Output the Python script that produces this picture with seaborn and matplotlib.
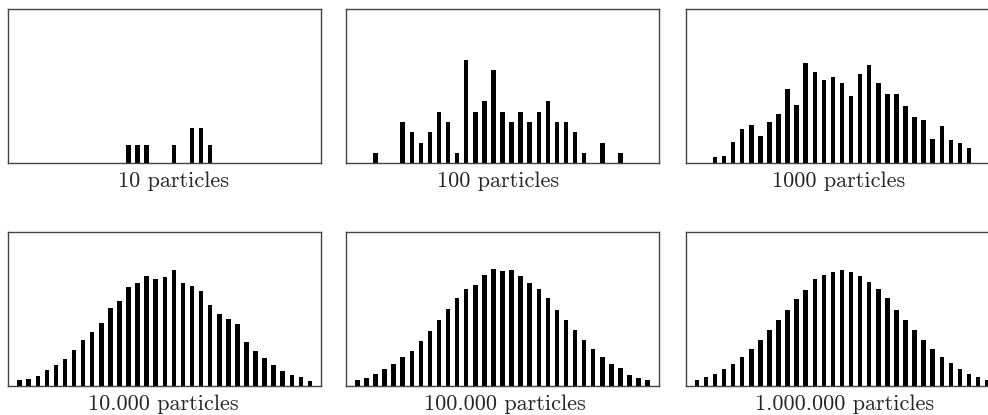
import numpy as np
import pandas as pd
import matplotlib
matplotlib.use("Agg")
import matplotlib.pyplot as plt
import seaborn as sns

# Bin index (33 bins of the board)
bins = list(range(33))

# Counts per bin
counts_10 = [0, 0, 0, 0, 0, 0, 0, 0, 0, 0, 0, 0, 1, 1, 1, 0, 0, 1, 0, 2, 2, 1,
             0, 0, 0, 0, 0, 0, 0, 0, 0, 0, 0]
counts_100 = [0, 0, 1, 0, 0, 4, 3, 2, 3, 5, 4, 1, 10, 5, 6, 9, 5, 4, 5, 4, 5, 6,
              4, 4, 3, 1, 0, 2, 0, 1, 0, 0, 0]
counts_1000 = [0, 0, 4, 5, 14, 22, 25, 18, 27, 32, 48, 38, 65, 59, 54, 56, 52, 44,
               58, 64, 52, 45, 45, 37, 30, 28, 16, 24, 15, 13, 10, 0, 0]
counts_10k = [34, 40, 56, 87, 116, 147, 196, 250, 292, 341, 426, 462, 539, 557,
              597, 579, 591, 629, 560, 544, 515, 441, 390, 363, 334, 241, 190,
              154, 114, 82, 60, 49, 25]
counts_100k = [318, 442, 654, 884, 1185, 1521, 1874, 2369, 2917, 3501, 4049, 4632,
               5127, 5322, 5852, 6206, 6064, 6135, 5799, 5463, 5127, 4668, 4031,
               3501, 2970, 2440, 1963, 1521, 1185, 937, 583, 442, 318]
counts_1m = [3170, 4580, 6340, 8810, 11800, 15320, 19370, 24300, 29410, 35050,
             40330, 45610, 50720, 56360, 58650, 60230, 61110, 60230, 57770, 54770,
             50900, 46140, 40330, 35050, 29410, 24300, 19720, 15320, 11980, 8810,
             6340, 4580, 3170]

labels = ["10 particles", "100 particles", "1000 particles",
          "10.000 particles", "100.000 particles", "1.000.000 particles"]
ymax = [8.64, 14.9, 100, 836, 8150, 81200]

all_counts = [counts_10, counts_100, counts_1000, counts_10k, counts_100k, counts_1m]

sns.set_style("white")
plt.rcParams["font.family"] = ["cmr10", "DejaVu Serif"]
plt.rcParams["axes.formatter.use_mathtext"] = True

fig = plt.figure(figsize=(9.88, 4.15), dpi=100)

W, H = 988, 415
col_left = [8.3, 346, 685.5]
row_bottom = [163.3, 386]
ax_w, ax_h = 313, 154
# small horizontal shift of each caption (pixels)
label_shift = [9, -4, -3, -1, 2, 3]

for i, (counts, label, top) in enumerate(zip(all_counts, labels, ymax)):
    r, c = divmod(i, 3)
    ax = fig.add_axes([col_left[c] / W, 1 - row_bottom[r] / H, ax_w / W, ax_h / H])
    df = pd.DataFrame({"bin": bins, "count": counts})
    sns.barplot(data=df, x="bin", y="count", native_scale=True, color="black",
                saturation=1, width=0.5, linewidth=0, errorbar=None, ax=ax)
    ax.set_xlim(-1.25, 33.25)
    ax.set_ylim(0, top)
    ax.set_xticks([])
    ax.set_yticks([])
    ax.set_xlabel("")
    ax.set_ylabel("")
    for s in ax.spines.values():
        s.set_color("#444444")
        s.set_linewidth(1.0)
    ax.text(0.5 + label_shift[i] / ax_w, -0.118, label, transform=ax.transAxes,
            ha="center", va="center", fontsize=16)

fig.savefig("out.png", dpi=100)
